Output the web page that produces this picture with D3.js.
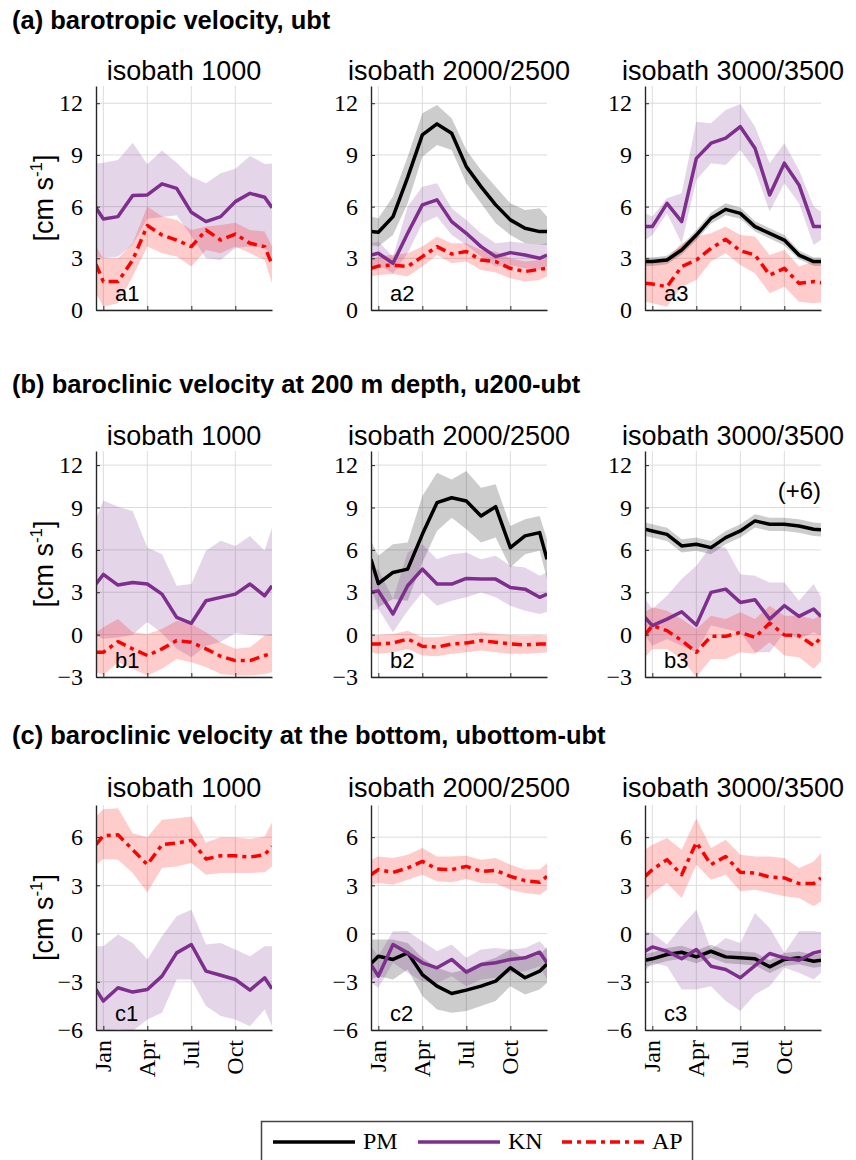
<!DOCTYPE html>
<html><head><meta charset="utf-8">
<script src="https://cdn.jsdelivr.net/npm/d3@7"></script>
<style>body{margin:0;background:#fff} svg{display:block}</style>
</head><body>
<svg id="chart" width="856" height="1160"></svg>
<script>
// ---------- data ----------
const monthX = [0.5,1,2,3,4,5,6,7,8,9,10,11,12,12.5];
const monthTicks = [1,4,7,10];
const monthLabels = ["Jan","Apr","Jul","Oct"];
const sectionTitles = ["(a) barotropic velocity, ubt","(b) baroclinic velocity at 200 m depth, u200-ubt","(c) baroclinic velocity at the bottom, ubottom-ubt"];
const panelTitles = ["isobath 1000","isobath 2000/2500","isobath 3000/3500"];
const yTicksA = [0,3,6,9,12];
const yTicksB = [-3,0,3,6,9,12];
const yTicksC = [-6,-3,0,3,6];
const seriesNames = ["PM","KN","AP"];

// row a
const a1_KN    = [5.94,5.28,5.42,6.64,6.68,7.32,7.06,5.67,5.13,5.42,6.29,6.77,6.54,5.94];
const a1_KN_hi = [8.5,8.55,8.7,9.7,8.46,9.25,8.55,7.74,7.35,7.93,8.2,8.94,8.48,8.5];
const a1_KN_lo = [3.1,3.0,3.1,3.8,5.3,5.4,5.5,4.3,3.0,2.9,3.6,3.7,3.6,3.1];
const a1_AP    = [2.65,1.65,1.65,2.9,4.9,4.35,4.06,3.68,4.64,4.06,4.41,3.87,3.68,2.65];
const a1_AP_hi = [3.68,3.0,3.0,3.87,6.0,5.42,5.22,4.64,4.84,4.94,5.07,4.64,4.55,3.68];
const a1_AP_lo = [0.97,0.19,0.39,1.94,3.68,3.29,3.1,2.52,3.48,3.29,3.68,3.29,2.9,1.55];

const a2_PM    = [4.55,4.51,5.42,7.7,10.16,10.8,10.26,8.32,7.16,6.1,5.23,4.74,4.55,4.55];
const a2_PM_hi = [5.42,5.32,6.58,8.9,11.42,11.9,11.13,9.29,8.13,7.16,6.19,5.81,5.9,5.42];
const a2_PM_lo = [3.77,3.68,4.35,6.19,8.9,9.58,9.29,7.35,6.19,5.03,4.35,3.87,3.77,3.77];
const a2_KN    = [3.19,3.29,2.71,4.45,6.1,6.39,5.13,4.45,3.68,3.1,3.33,3.19,3.0,3.19];
const a2_KN_hi = [3.87,3.97,3.1,6.0,7.16,7.35,5.9,5.23,4.45,3.87,3.97,3.87,3.77,3.87];
const a2_KN_lo = [2.52,2.61,2.13,3.29,5.03,5.42,4.35,3.77,3.1,2.52,2.61,2.42,2.32,2.52];
const a2_AP    = [2.42,2.55,2.61,2.52,3.1,3.68,3.25,3.39,2.9,2.81,2.42,2.23,2.36,2.42];
const a2_AP_hi = [3.0,3.1,3.2,3.29,3.68,4.26,3.87,3.87,3.48,3.39,3.0,2.81,2.9,3.0];
const a2_AP_lo = [1.94,2.03,2.09,1.94,2.52,3.19,2.71,2.81,2.32,2.17,1.84,1.65,1.74,1.94];

const a3_PM    = [2.81,2.81,2.9,3.48,4.35,5.32,5.84,5.61,4.84,4.45,4.06,3.19,2.81,2.81];
const a3_PM_hi = [3.05,3.05,3.15,3.75,4.65,5.65,6.2,5.95,5.15,4.75,4.35,3.45,3.05,3.05];
const a3_PM_lo = [2.55,2.55,2.65,3.2,4.05,5.0,5.5,5.3,4.55,4.15,3.75,2.95,2.55,2.55];
const a3_KN    = [4.84,4.84,6.19,5.13,8.8,9.68,9.97,10.64,9.39,6.68,8.52,7.26,4.84,4.84];
const a3_KN_hi = [5.61,5.42,6.48,6.77,10.93,10.84,11.61,11.96,10.64,8.52,9.68,8.13,6.0,5.7];
const a3_KN_lo = [4.06,4.35,5.61,3.87,7.55,8.52,8.42,9.29,8.13,5.71,7.35,6.19,3.77,4.06];
const a3_AP    = [1.55,1.51,1.35,2.52,2.9,3.58,4.1,3.44,3.19,2.03,2.42,1.55,1.65,1.58];
const a3_AP_hi = [2.81,2.71,3.0,3.87,4.26,4.45,4.84,4.35,4.26,3.19,3.48,2.52,2.81,2.81];
const a3_AP_lo = [0.48,0.39,0.19,1.35,1.74,2.81,3.29,2.61,2.13,0.97,1.35,0.48,0.39,0.45];

// row b
const b1_KN    = [3.58,4.26,3.51,3.69,3.58,2.87,1.22,0.8,2.4,2.64,2.87,3.58,2.75,3.46];
const b1_KN_hi = [8.16,9.5,9.06,8.75,6.16,5.69,3.46,3.58,5.93,6.64,6.28,6.99,5.93,7.58];
const b1_KN_lo = [-0.1,-0.3,-0.2,0.0,0.9,0.1,-1.0,-1.6,-0.8,-0.5,0.1,0.0,-0.1,-0.1];
const b1_AP    = [-1.25,-1.25,-0.49,-1.01,-1.48,-1.01,-0.42,-0.54,-1.01,-1.53,-1.84,-1.84,-1.48,-1.32];
const b1_AP_hi = [0.16,0.52,1.1,0.16,0.05,0.4,0.99,0.75,0.16,-0.54,-1.0,-0.9,-0.07,0.05];
const b1_AP_lo = [-2.66,-2.85,-1.95,-2.42,-2.89,-2.42,-1.72,-1.95,-2.3,-2.78,-2.9,-2.9,-2.78,-2.66];

const b2_PM    = [5.34,3.62,4.4,4.64,7.1,9.34,9.69,9.46,8.4,9.06,6.16,6.99,7.22,5.34];
const b2_PM_hi = [6.64,5.58,6.4,6.52,9.81,11.46,10.99,11.58,10.4,10.64,7.69,8.16,8.4,6.75];
const b2_PM_lo = [3.22,1.93,2.52,2.4,5.1,7.34,8.28,7.46,6.52,6.87,4.75,5.69,5.93,3.93];
const b2_KN    = [2.99,3.1,1.46,3.46,4.64,3.58,3.58,3.98,3.93,3.93,3.34,3.22,2.64,2.87];
const b2_KN_hi = [4.52,4.64,2.52,5.81,6.4,5.34,5.69,5.81,5.34,5.58,4.87,4.75,4.16,4.4];
const b2_KN_lo = [1.69,1.81,0.16,1.69,2.99,2.05,2.4,2.64,2.99,2.64,2.05,1.69,1.46,1.6];
const b2_AP    = [-0.66,-0.66,-0.59,-0.31,-0.82,-0.89,-0.66,-0.59,-0.42,-0.54,-0.66,-0.73,-0.66,-0.66];
const b2_AP_hi = [-0.07,-0.02,0.05,0.28,-0.19,-0.19,-0.07,0.05,0.16,0.05,-0.02,-0.07,-0.02,-0.07];
const b2_AP_lo = [-1.25,-1.36,-1.25,-1.01,-1.48,-1.53,-1.36,-1.25,-1.13,-1.25,-1.36,-1.36,-1.3,-1.25];

const b3_PM    = [7.46,7.34,7.1,6.28,6.4,6.16,6.87,7.34,8.05,7.81,7.81,7.69,7.46,7.42];
const b3_PM_hi = [7.93,7.81,7.57,6.75,6.87,6.63,7.34,7.81,8.52,8.28,8.28,8.16,7.93,7.9];
const b3_PM_lo = [6.99,6.87,6.63,5.81,5.93,5.69,6.4,6.87,7.58,7.34,7.34,7.22,6.99,6.95];
const b3_KN    = [1.22,0.64,1.1,1.62,0.68,2.99,3.22,2.28,2.47,1.1,2.05,1.29,1.81,1.29];
const b3_KN_hi = [2.52,1.81,2.75,3.93,4.87,6.28,6.16,4.28,4.16,3.69,3.69,2.4,3.58,2.64];
const b3_KN_lo = [-0.07,-0.78,-0.31,-0.78,-1.25,0.64,0.4,0.16,-1.25,-1.25,0.16,-0.31,0.16,-0.07];
const b3_AP    = [-0.02,0.64,0.28,-0.42,-1.25,-0.12,-0.12,0.16,-0.19,0.82,-0.02,-0.07,-0.78,-0.19];
const b3_AP_hi = [1.58,1.93,1.69,1.1,0.4,1.34,1.1,1.58,1.1,2.05,1.34,1.34,1.1,1.4];
const b3_AP_lo = [-1.6,-1.01,-1.01,-1.72,-3.0,-1.72,-1.72,-1.25,-1.36,-0.54,-1.48,-1.6,-2.42,-1.9];

// row c
const c1_KN    = [-3.48,-4.2,-3.37,-3.64,-3.48,-2.65,-1.2,-0.68,-2.34,-2.59,-2.86,-3.52,-2.75,-3.44];
const c1_KN_hi = [-0.79,-0.79,-0.06,-0.58,-1.61,-0.17,1.08,1.49,-0.68,-0.58,-0.99,-1.41,-0.79,-0.79];
const c1_KN_lo = [-5.96,-6.07,-5.96,-6.07,-5.34,-4.93,-2.86,-2.86,-4.51,-5.13,-5.34,-5.76,-4.72,-5.76];
const c1_AP    = [5.53,6.09,6.15,5.22,4.29,5.53,5.63,5.8,4.64,4.84,4.84,4.76,4.91,5.42];
const c1_AP_hi = [7.29,7.74,7.8,6.25,6.0,7.08,7.18,7.29,5.67,6.0,6.0,5.88,6.04,6.91];
const c1_AP_lo = [4.29,4.64,4.6,3.77,2.57,4.08,4.18,4.39,3.66,3.77,3.77,3.77,3.81,4.18];

const c2_PM    = [-1.87,-1.41,-1.61,-1.2,-2.55,-3.27,-3.73,-3.52,-3.27,-2.96,-2.13,-2.75,-2.34,-1.9];
const c2_PM_hi = [-0.37,-0.37,-0.37,-0.58,-1.51,-2.13,-2.44,-2.24,-1.82,-1.51,-0.99,-1.61,-1.3,-0.85];
const c2_PM_lo = [-2.86,-2.65,-2.86,-2.24,-3.89,-4.72,-4.93,-4.82,-4.51,-4.2,-3.27,-3.79,-3.48,-3.06];
const c2_KN    = [-1.93,-2.65,-0.68,-1.2,-1.82,-2.13,-1.61,-2.4,-1.93,-1.82,-1.61,-1.51,-1.16,-1.82];
const c2_KN_hi = [-0.79,-1.41,0.14,0.14,-0.48,-1.1,-0.68,-1.51,-0.99,-0.89,-0.99,-0.89,-0.48,-0.99];
const c2_KN_lo = [-3.06,-3.37,-1.82,-2.44,-2.96,-3.06,-2.65,-3.27,-2.86,-2.75,-2.44,-2.34,-2.03,-2.86];
const c2_AP    = [3.66,3.98,3.81,4.08,4.49,4.02,3.98,4.18,3.87,3.93,3.56,3.29,3.19,3.56];
const c2_AP_hi = [4.6,4.8,4.7,4.91,5.32,4.8,4.8,4.84,4.6,4.7,4.29,3.98,3.98,4.39];
const c2_AP_lo = [3.04,3.15,3.04,3.35,3.66,3.25,3.19,3.4,3.15,3.11,2.73,2.53,2.42,2.73];

const c3_PM    = [-1.66,-1.57,-1.3,-1.16,-1.45,-1.1,-1.45,-1.51,-1.57,-2.07,-1.61,-1.51,-1.72,-1.66];
const c3_PM_hi = [-1.26,-1.17,-0.9,-0.76,-1.05,-0.7,-1.05,-1.11,-1.17,-1.67,-1.21,-1.11,-1.32,-1.26];
const c3_PM_lo = [-2.06,-1.97,-1.7,-1.56,-1.85,-1.5,-1.85,-1.91,-1.97,-2.47,-2.01,-1.91,-2.12,-2.06];
const c3_KN    = [-1.1,-0.83,-1.1,-1.57,-0.99,-2.03,-2.24,-2.75,-1.99,-1.24,-1.51,-1.66,-1.2,-1.1];
const c3_KN_hi = [0.14,0.04,-0.68,0.46,1.49,-0.99,-0.27,-0.58,1.28,0.35,-1.2,0.14,0.14,0.1];
const c3_KN_lo = [-2.34,-1.82,-2.03,-3.48,-3.48,-3.27,-4.2,-4.82,-3.79,-3.27,-2.13,-2.44,-2.86,-2.44];
const c3_AP    = [3.56,3.98,4.6,3.66,5.67,4.29,4.8,3.81,3.77,3.52,3.46,3.11,3.11,3.46];
const c3_AP_hi = [5.22,5.53,5.94,5.22,7.18,5.32,5.84,4.91,4.8,4.8,4.7,4.08,4.49,5.0];
const c3_AP_lo = [2.01,2.53,3.15,2.22,4.29,3.35,3.66,2.63,2.73,2.53,2.32,2.22,1.7,2.0];

// ---------- layout ----------
const colLeft = [96, 371, 645];
const panelW = 176;
const rows = [
  {top:86,  bottom:310,  domain:[0,13],  ticks:yTicksA, headerY:29,  titleY:80},
  {top:451, bottom:677,  domain:[-3,13], ticks:yTicksB, headerY:393, titleY:445},
  {top:805, bottom:1030, domain:[-6,8],  ticks:yTicksC, headerY:744, titleY:797}
];
const panels = [
  {row:0,col:0,tag:"a1",s:{KN:[a1_KN,a1_KN_lo,a1_KN_hi],AP:[a1_AP,a1_AP_lo,a1_AP_hi]}},
  {row:0,col:1,tag:"a2",s:{PM:[a2_PM,a2_PM_lo,a2_PM_hi],KN:[a2_KN,a2_KN_lo,a2_KN_hi],AP:[a2_AP,a2_AP_lo,a2_AP_hi]}},
  {row:0,col:2,tag:"a3",s:{PM:[a3_PM,a3_PM_lo,a3_PM_hi],KN:[a3_KN,a3_KN_lo,a3_KN_hi],AP:[a3_AP,a3_AP_lo,a3_AP_hi]}},
  {row:1,col:0,tag:"b1",s:{KN:[b1_KN,b1_KN_lo,b1_KN_hi],AP:[b1_AP,b1_AP_lo,b1_AP_hi]}},
  {row:1,col:1,tag:"b2",s:{PM:[b2_PM,b2_PM_lo,b2_PM_hi],KN:[b2_KN,b2_KN_lo,b2_KN_hi],AP:[b2_AP,b2_AP_lo,b2_AP_hi]}},
  {row:1,col:2,tag:"b3",s:{PM:[b3_PM,b3_PM_lo,b3_PM_hi],KN:[b3_KN,b3_KN_lo,b3_KN_hi],AP:[b3_AP,b3_AP_lo,b3_AP_hi]},note:"(+6)"},
  {row:2,col:0,tag:"c1",s:{KN:[c1_KN,c1_KN_lo,c1_KN_hi],AP:[c1_AP,c1_AP_lo,c1_AP_hi]}},
  {row:2,col:1,tag:"c2",s:{PM:[c2_PM,c2_PM_lo,c2_PM_hi],KN:[c2_KN,c2_KN_lo,c2_KN_hi],AP:[c2_AP,c2_AP_lo,c2_AP_hi]}},
  {row:2,col:2,tag:"c3",s:{PM:[c3_PM,c3_PM_lo,c3_PM_hi],KN:[c3_KN,c3_KN_lo,c3_KN_hi],AP:[c3_AP,c3_AP_lo,c3_AP_hi]}}
];
const STYLE = {
  PM:{color:"#000000", op:0.2, dash:null},
  KN:{color:"#7E2F8E", op:0.2, dash:null},
  AP:{color:"#FF0000", op:0.2, dash:"10,5,4,5"}
};
const SANS = "'Liberation Sans', Arial, Helvetica, sans-serif";
const SERIF = "'Liberation Serif', 'Times New Roman', serif";
const AXC = "#262626";
const LW = 3.5;

const svg = d3.select("#chart");
svg.append("rect").attr("width",856).attr("height",1160).attr("fill","#fff");

// section headers and y labels
rows.forEach((r,i)=>{
  svg.append("text").attr("x",12).attr("y",r.headerY)
    .attr("font-family",SANS).attr("font-weight","bold").attr("font-size",25.5)
    .attr("fill","#000").text(sectionTitles[i]);
  const cy = (r.top + r.bottom)/2;
  const yl = svg.append("text").attr("transform",`translate(53,${cy}) rotate(-90)`)
    .attr("text-anchor","middle").attr("font-family",SANS).attr("font-size",27).attr("fill","#000");
  yl.append("tspan").text("[cm s");
  yl.append("tspan").attr("font-size",17).attr("dy",-11).text("-1");
  yl.append("tspan").attr("dy",11).text("]");
});

panels.forEach((p,pi)=>{
  const r = rows[p.row];
  const x0 = colLeft[p.col], x1 = x0 + panelW;
  const x = d3.scaleLinear().domain([0.5,12.5]).range([x0,x1]);
  const y = d3.scaleLinear().domain(r.domain).range([r.bottom,r.top]);
  const g = svg.append("g");
  const clipId = "clip"+pi;
  svg.append("clipPath").attr("id",clipId).append("rect")
    .attr("x",x0).attr("y",r.top).attr("width",panelW).attr("height",r.bottom-r.top);

  // grid
  g.append("g").selectAll("line").data(r.ticks).join("line")
    .attr("x1",x0).attr("x2",x1).attr("y1",d=>y(d)).attr("y2",d=>y(d))
    .attr("stroke","#dcdcdc").attr("stroke-width",1);
  g.append("g").selectAll("line").data(monthTicks).join("line")
    .attr("x1",d=>x(d)).attr("x2",d=>x(d)).attr("y1",r.top).attr("y2",r.bottom)
    .attr("stroke","#dcdcdc").attr("stroke-width",1);

  // series
  const plot = g.append("g").attr("clip-path",`url(#${clipId})`);
  const order = seriesNames.filter(n=>p.s[n]);
  order.forEach(n=>{
    const [m,lo,hi] = p.s[n];
    const pts = monthX.map((t,i)=>({t, m:m[i], lo:lo[i], hi:hi[i]}));
    plot.append("path").datum(pts)
      .attr("d", d3.area().x(d=>x(d.t)).y0(d=>y(d.lo)).y1(d=>y(d.hi)))
      .attr("fill",STYLE[n].color).attr("fill-opacity",STYLE[n].op).attr("stroke","none");
  });
  order.forEach(n=>{
    const [m] = p.s[n];
    const pts = monthX.map((t,i)=>({t, m:m[i]}));
    plot.append("path").datum(pts)
      .attr("d", d3.line().x(d=>x(d.t)).y(d=>y(d.m)))
      .attr("fill","none").attr("stroke",STYLE[n].color).attr("stroke-width",LW)
      .attr("stroke-linejoin","round")
      .attr("stroke-dasharray",STYLE[n].dash);
  });

  // axes
  const ya = g.append("g").attr("transform",`translate(${x0},0)`)
    .call(d3.axisLeft(y).tickValues(r.ticks).tickSize(-4).tickSizeOuter(0).tickPadding(13));
  ya.select(".domain").attr("stroke",AXC).attr("stroke-width",1.4);
  ya.selectAll(".tick line").attr("stroke",AXC);
  ya.selectAll("text").attr("font-family",SERIF).attr("font-size",24).attr("fill","#000");
  const xa = g.append("g").attr("transform",`translate(0,${r.bottom})`)
    .call(d3.axisBottom(x).tickValues(monthTicks).tickSize(-4).tickSizeOuter(0).tickFormat(""));
  xa.select(".domain").attr("stroke",AXC).attr("stroke-width",1.4);
  xa.selectAll(".tick line").attr("stroke",AXC);
  if (p.row === 2) {
    monthTicks.forEach((t,i)=>{
      g.append("text").attr("transform",`translate(${x(t)+8},${r.bottom+10}) rotate(-90)`)
        .attr("text-anchor","end").attr("font-family",SERIF).attr("font-size",24)
        .attr("fill","#000").text(monthLabels[i]);
    });
  }

  // title
  g.append("text").attr("x",(x0+x1)/2).attr("y",r.titleY).attr("text-anchor","middle")
    .attr("font-family",SANS).attr("font-size",27).attr("fill","#000").text(panelTitles[p.col]);
  // tag
  g.append("text").attr("x",x0+19).attr("y",r.bottom-9)
    .attr("font-family",SANS).attr("font-size",22).attr("fill","#000").text(p.tag);
  if (p.note) {
    g.append("text").attr("x",x1).attr("y",y(9.6)).attr("text-anchor","end")
      .attr("font-family",SANS).attr("font-size",24).attr("fill","#000").text(p.note);
  }
});

// legend
const lg = svg.append("g");
lg.append("rect").attr("x",261.5).attr("y",1121.5).attr("width",431).attr("height",60)
  .attr("fill","#fff").attr("stroke","#444").attr("stroke-width",1.5);
const legX = [273, 418, 562];
seriesNames.forEach((n,i)=>{
  lg.append("line").attr("x1",legX[i]).attr("x2",legX[i]+82).attr("y1",1142).attr("y2",1142)
    .attr("stroke",STYLE[n].color).attr("stroke-width",LW).attr("stroke-dasharray",STYLE[n].dash);
  lg.append("text").attr("x",legX[i]+90).attr("y",1149).attr("font-family",SERIF)
    .attr("font-size",24).attr("fill","#000").text(n);
});
</script>
</body></html>
